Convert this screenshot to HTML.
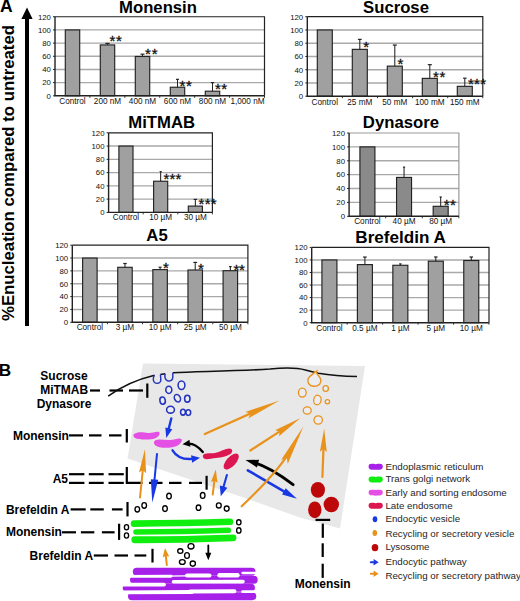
<!DOCTYPE html><html><head><meta charset="utf-8"><style>
html,body{margin:0;padding:0;background:#fff;}
svg{display:block;}
</style></head><body>
<svg width="520" height="601" viewBox="0 0 520 601" font-family="'Liberation Sans', sans-serif">
<text x="0.1" y="12.2" font-size="17.5" font-weight="bold">A</text>
<rect x="25" y="18" width="4" height="308" fill="#000"/>
<polygon points="27,7.5 32.6,19 21.4,19" fill="#000"/>
<text transform="translate(13.9,321) rotate(-90)" font-size="16" font-weight="bold" textLength="296" lengthAdjust="spacingAndGlyphs">%Enucleation compared to untreated</text>
<line x1="55" y1="82.62" x2="264.5" y2="82.62" stroke="#a9a9a9" stroke-width="1.4"/>
<line x1="55" y1="69.45" x2="264.5" y2="69.45" stroke="#a9a9a9" stroke-width="1.4"/>
<line x1="55" y1="56.27" x2="264.5" y2="56.27" stroke="#a9a9a9" stroke-width="1.4"/>
<line x1="55" y1="43.10" x2="264.5" y2="43.10" stroke="#a9a9a9" stroke-width="1.4"/>
<line x1="55" y1="29.92" x2="264.5" y2="29.92" stroke="#a9a9a9" stroke-width="1.4"/>
<polyline points="55,16.75 264.5,16.75 264.5,95.80" fill="none" stroke="#222" stroke-width="1.2"/>
<line x1="53" y1="95.80" x2="55" y2="95.80" stroke="#222" stroke-width="1"/>
<text x="50.9" y="98.60" font-size="7.8" text-anchor="end" fill="#111">0</text>
<line x1="53" y1="82.62" x2="55" y2="82.62" stroke="#222" stroke-width="1"/>
<text x="50.9" y="85.42" font-size="7.8" text-anchor="end" fill="#111">20</text>
<line x1="53" y1="69.45" x2="55" y2="69.45" stroke="#222" stroke-width="1"/>
<text x="50.9" y="72.25" font-size="7.8" text-anchor="end" fill="#111">40</text>
<line x1="53" y1="56.27" x2="55" y2="56.27" stroke="#222" stroke-width="1"/>
<text x="50.9" y="59.07" font-size="7.8" text-anchor="end" fill="#111">60</text>
<line x1="53" y1="43.10" x2="55" y2="43.10" stroke="#222" stroke-width="1"/>
<text x="50.9" y="45.90" font-size="7.8" text-anchor="end" fill="#111">80</text>
<line x1="53" y1="29.92" x2="55" y2="29.92" stroke="#222" stroke-width="1"/>
<text x="50.9" y="32.72" font-size="7.8" text-anchor="end" fill="#111">100</text>
<line x1="53" y1="16.75" x2="55" y2="16.75" stroke="#222" stroke-width="1"/>
<text x="50.9" y="19.55" font-size="7.8" text-anchor="end" fill="#111">120</text>
<line x1="89.92" y1="95.80" x2="89.92" y2="97.80" stroke="#222" stroke-width="0.9"/>
<line x1="124.83" y1="95.80" x2="124.83" y2="97.80" stroke="#222" stroke-width="0.9"/>
<line x1="159.75" y1="95.80" x2="159.75" y2="97.80" stroke="#222" stroke-width="0.9"/>
<line x1="194.67" y1="95.80" x2="194.67" y2="97.80" stroke="#222" stroke-width="0.9"/>
<line x1="229.58" y1="95.80" x2="229.58" y2="97.80" stroke="#222" stroke-width="0.9"/>
<line x1="264.50" y1="95.80" x2="264.50" y2="97.80" stroke="#222" stroke-width="0.9"/>
<rect x="65.30" y="29.92" width="14.4" height="65.88" fill="#a0a0a0" stroke="#222" stroke-width="1.15"/>
<text x="72.50" y="103.90" font-size="8.2" text-anchor="middle" fill="#111">Control</text>
<rect x="100.30" y="44.94" width="14.4" height="50.86" fill="#a0a0a0" stroke="#222" stroke-width="1.15"/>
<line x1="107.50" y1="44.94" x2="107.50" y2="43.36" stroke="#222" stroke-width="1.05"/>
<line x1="105.35" y1="43.36" x2="109.65" y2="43.36" stroke="#222" stroke-width="1.2"/>
<text x="107.50" y="103.90" font-size="8.2" text-anchor="middle" fill="#111">200 nM</text>
<rect x="135.30" y="56.47" width="14.4" height="39.33" fill="#a0a0a0" stroke="#222" stroke-width="1.15"/>
<line x1="142.50" y1="56.47" x2="142.50" y2="54.17" stroke="#222" stroke-width="1.05"/>
<line x1="140.50" y1="54.17" x2="144.50" y2="54.17" stroke="#222" stroke-width="1.2"/>
<text x="142.50" y="103.90" font-size="8.2" text-anchor="middle" fill="#111">400 nM</text>
<rect x="170.30" y="87.24" width="14.4" height="8.56" fill="#a0a0a0" stroke="#222" stroke-width="1.15"/>
<line x1="177.50" y1="87.24" x2="177.50" y2="79.33" stroke="#222" stroke-width="1.05"/>
<line x1="176.00" y1="79.33" x2="179.00" y2="79.33" stroke="#222" stroke-width="1.2"/>
<text x="177.50" y="103.90" font-size="8.2" text-anchor="middle" fill="#111">600 nM</text>
<rect x="205.30" y="91.19" width="14.4" height="4.61" fill="#a0a0a0" stroke="#222" stroke-width="1.15"/>
<line x1="212.50" y1="91.19" x2="212.50" y2="82.62" stroke="#222" stroke-width="1.05"/>
<line x1="210.80" y1="82.62" x2="214.20" y2="82.62" stroke="#222" stroke-width="1.2"/>
<text x="212.50" y="103.90" font-size="8.2" text-anchor="middle" fill="#111">800 nM</text>
<text x="247.50" y="103.90" font-size="8.2" text-anchor="middle" fill="#111">1,000 nM</text>
<polyline points="55,16.75 55,95.80 264.5,95.80" fill="none" stroke="#222" stroke-width="1.4"/>
<text x="112.40" y="46.30" font-size="15" text-anchor="middle" fill="#111" stroke="#111" stroke-width="0.3">*</text>
<text x="119.00" y="46.30" font-size="15" text-anchor="middle" fill="#111" stroke="#111" stroke-width="0.3">*</text>
<text x="147.90" y="58.90" font-size="15" text-anchor="middle" fill="#111" stroke="#111" stroke-width="0.3">*</text>
<text x="154.70" y="58.90" font-size="15" text-anchor="middle" fill="#111" stroke="#111" stroke-width="0.3">*</text>
<text x="182.50" y="90.60" font-size="15" text-anchor="middle" fill="#111" stroke="#111" stroke-width="0.3">*</text>
<text x="189.00" y="90.60" font-size="15" text-anchor="middle" fill="#111" stroke="#111" stroke-width="0.3">*</text>
<text x="218.00" y="94.40" font-size="15" text-anchor="middle" fill="#111" stroke="#111" stroke-width="0.3">*</text>
<text x="224.20" y="94.40" font-size="15" text-anchor="middle" fill="#111" stroke="#111" stroke-width="0.3">*</text>
<text x="158" y="12.5" font-size="16.7" font-weight="bold" text-anchor="middle" fill="#000">Monensin</text>
<line x1="307.3" y1="82.95" x2="482.8" y2="82.95" stroke="#a9a9a9" stroke-width="1.4"/>
<line x1="307.3" y1="69.70" x2="482.8" y2="69.70" stroke="#a9a9a9" stroke-width="1.4"/>
<line x1="307.3" y1="56.45" x2="482.8" y2="56.45" stroke="#a9a9a9" stroke-width="1.4"/>
<line x1="307.3" y1="43.20" x2="482.8" y2="43.20" stroke="#a9a9a9" stroke-width="1.4"/>
<line x1="307.3" y1="29.95" x2="482.8" y2="29.95" stroke="#a9a9a9" stroke-width="1.4"/>
<polyline points="307.3,16.70 482.8,16.70 482.8,96.20" fill="none" stroke="#222" stroke-width="1.2"/>
<line x1="305.3" y1="96.20" x2="307.3" y2="96.20" stroke="#222" stroke-width="1"/>
<text x="303.2" y="99.00" font-size="7.8" text-anchor="end" fill="#111">0</text>
<line x1="305.3" y1="82.95" x2="307.3" y2="82.95" stroke="#222" stroke-width="1"/>
<text x="303.2" y="85.75" font-size="7.8" text-anchor="end" fill="#111">20</text>
<line x1="305.3" y1="69.70" x2="307.3" y2="69.70" stroke="#222" stroke-width="1"/>
<text x="303.2" y="72.50" font-size="7.8" text-anchor="end" fill="#111">40</text>
<line x1="305.3" y1="56.45" x2="307.3" y2="56.45" stroke="#222" stroke-width="1"/>
<text x="303.2" y="59.25" font-size="7.8" text-anchor="end" fill="#111">60</text>
<line x1="305.3" y1="43.20" x2="307.3" y2="43.20" stroke="#222" stroke-width="1"/>
<text x="303.2" y="46.00" font-size="7.8" text-anchor="end" fill="#111">80</text>
<line x1="305.3" y1="29.95" x2="307.3" y2="29.95" stroke="#222" stroke-width="1"/>
<text x="303.2" y="32.75" font-size="7.8" text-anchor="end" fill="#111">100</text>
<line x1="305.3" y1="16.70" x2="307.3" y2="16.70" stroke="#222" stroke-width="1"/>
<text x="303.2" y="19.50" font-size="7.8" text-anchor="end" fill="#111">120</text>
<line x1="342.40" y1="96.20" x2="342.40" y2="98.20" stroke="#222" stroke-width="0.9"/>
<line x1="377.50" y1="96.20" x2="377.50" y2="98.20" stroke="#222" stroke-width="0.9"/>
<line x1="412.60" y1="96.20" x2="412.60" y2="98.20" stroke="#222" stroke-width="0.9"/>
<line x1="447.70" y1="96.20" x2="447.70" y2="98.20" stroke="#222" stroke-width="0.9"/>
<line x1="482.80" y1="96.20" x2="482.80" y2="98.20" stroke="#222" stroke-width="0.9"/>
<rect x="317.30" y="29.95" width="15" height="66.25" fill="#a0a0a0" stroke="#222" stroke-width="1.15"/>
<text x="324.80" y="105.20" font-size="8.2" text-anchor="middle" fill="#111">Control</text>
<rect x="352.30" y="49.36" width="15" height="46.84" fill="#a0a0a0" stroke="#222" stroke-width="1.15"/>
<line x1="359.80" y1="49.36" x2="359.80" y2="39.36" stroke="#222" stroke-width="1.05"/>
<line x1="357.90" y1="39.36" x2="361.70" y2="39.36" stroke="#222" stroke-width="1.2"/>
<text x="359.80" y="105.20" font-size="8.2" text-anchor="middle" fill="#111">25 mM</text>
<rect x="387.30" y="66.12" width="15" height="30.08" fill="#a0a0a0" stroke="#222" stroke-width="1.15"/>
<line x1="394.80" y1="66.12" x2="394.80" y2="45.05" stroke="#222" stroke-width="1.05"/>
<line x1="392.80" y1="45.05" x2="396.80" y2="45.05" stroke="#222" stroke-width="1.2"/>
<text x="394.80" y="105.20" font-size="8.2" text-anchor="middle" fill="#111">50 mM</text>
<rect x="422.30" y="78.38" width="15" height="17.82" fill="#a0a0a0" stroke="#222" stroke-width="1.15"/>
<line x1="429.80" y1="78.38" x2="429.80" y2="64.67" stroke="#222" stroke-width="1.05"/>
<line x1="427.80" y1="64.67" x2="431.80" y2="64.67" stroke="#222" stroke-width="1.2"/>
<text x="429.80" y="105.20" font-size="8.2" text-anchor="middle" fill="#111">100 mM</text>
<rect x="457.30" y="86.33" width="15" height="9.87" fill="#a0a0a0" stroke="#222" stroke-width="1.15"/>
<line x1="464.80" y1="86.33" x2="464.80" y2="78.18" stroke="#222" stroke-width="1.05"/>
<line x1="463.10" y1="78.18" x2="466.50" y2="78.18" stroke="#222" stroke-width="1.2"/>
<text x="464.80" y="105.20" font-size="8.2" text-anchor="middle" fill="#111">150 mM</text>
<polyline points="307.3,16.70 307.3,96.20 482.8,96.20" fill="none" stroke="#222" stroke-width="1.4"/>
<text x="366.20" y="51.90" font-size="15" text-anchor="middle" fill="#111" stroke="#111" stroke-width="0.3">*</text>
<text x="400.50" y="69.40" font-size="15" text-anchor="middle" fill="#111" stroke="#111" stroke-width="0.3">*</text>
<text x="436.00" y="81.50" font-size="15" text-anchor="middle" fill="#111" stroke="#111" stroke-width="0.3">*</text>
<text x="442.50" y="81.50" font-size="15" text-anchor="middle" fill="#111" stroke="#111" stroke-width="0.3">*</text>
<text x="470.80" y="89.30" font-size="15" text-anchor="middle" fill="#111" stroke="#111" stroke-width="0.3">*</text>
<text x="477.00" y="89.30" font-size="15" text-anchor="middle" fill="#111" stroke="#111" stroke-width="0.3">*</text>
<text x="483.20" y="89.30" font-size="15" text-anchor="middle" fill="#111" stroke="#111" stroke-width="0.3">*</text>
<text x="396" y="12.5" font-size="16.7" font-weight="bold" text-anchor="middle" fill="#000">Sucrose</text>
<line x1="108.6" y1="199.13" x2="212.4" y2="199.13" stroke="#a9a9a9" stroke-width="1.4"/>
<line x1="108.6" y1="185.87" x2="212.4" y2="185.87" stroke="#a9a9a9" stroke-width="1.4"/>
<line x1="108.6" y1="172.60" x2="212.4" y2="172.60" stroke="#a9a9a9" stroke-width="1.4"/>
<line x1="108.6" y1="159.33" x2="212.4" y2="159.33" stroke="#a9a9a9" stroke-width="1.4"/>
<line x1="108.6" y1="146.07" x2="212.4" y2="146.07" stroke="#a9a9a9" stroke-width="1.4"/>
<polyline points="108.6,132.80 212.4,132.80 212.4,212.40" fill="none" stroke="#222" stroke-width="1.2"/>
<line x1="106.6" y1="212.40" x2="108.6" y2="212.40" stroke="#222" stroke-width="1"/>
<text x="104.5" y="215.20" font-size="7.8" text-anchor="end" fill="#111">0</text>
<line x1="106.6" y1="199.13" x2="108.6" y2="199.13" stroke="#222" stroke-width="1"/>
<text x="104.5" y="201.93" font-size="7.8" text-anchor="end" fill="#111">20</text>
<line x1="106.6" y1="185.87" x2="108.6" y2="185.87" stroke="#222" stroke-width="1"/>
<text x="104.5" y="188.67" font-size="7.8" text-anchor="end" fill="#111">40</text>
<line x1="106.6" y1="172.60" x2="108.6" y2="172.60" stroke="#222" stroke-width="1"/>
<text x="104.5" y="175.40" font-size="7.8" text-anchor="end" fill="#111">60</text>
<line x1="106.6" y1="159.33" x2="108.6" y2="159.33" stroke="#222" stroke-width="1"/>
<text x="104.5" y="162.13" font-size="7.8" text-anchor="end" fill="#111">80</text>
<line x1="106.6" y1="146.07" x2="108.6" y2="146.07" stroke="#222" stroke-width="1"/>
<text x="104.5" y="148.87" font-size="7.8" text-anchor="end" fill="#111">100</text>
<line x1="106.6" y1="132.80" x2="108.6" y2="132.80" stroke="#222" stroke-width="1"/>
<text x="104.5" y="135.60" font-size="7.8" text-anchor="end" fill="#111">120</text>
<line x1="143.20" y1="212.40" x2="143.20" y2="214.40" stroke="#222" stroke-width="0.9"/>
<line x1="177.80" y1="212.40" x2="177.80" y2="214.40" stroke="#222" stroke-width="0.9"/>
<line x1="212.40" y1="212.40" x2="212.40" y2="214.40" stroke="#222" stroke-width="0.9"/>
<rect x="118.90" y="146.07" width="14.1" height="66.33" fill="#a0a0a0" stroke="#222" stroke-width="1.15"/>
<text x="125.95" y="220.30" font-size="8.2" text-anchor="middle" fill="#111">Control</text>
<rect x="153.60" y="181.22" width="14.1" height="31.18" fill="#a0a0a0" stroke="#222" stroke-width="1.15"/>
<line x1="160.65" y1="181.22" x2="160.65" y2="171.61" stroke="#222" stroke-width="1.05"/>
<line x1="159.65" y1="171.61" x2="161.65" y2="171.61" stroke="#222" stroke-width="1.2"/>
<text x="160.65" y="220.30" font-size="8.2" text-anchor="middle" fill="#111">10 µM</text>
<rect x="188.30" y="206.10" width="14.1" height="6.30" fill="#a0a0a0" stroke="#222" stroke-width="1.15"/>
<line x1="195.35" y1="206.10" x2="195.35" y2="199.40" stroke="#222" stroke-width="1.05"/>
<line x1="193.60" y1="199.40" x2="197.10" y2="199.40" stroke="#222" stroke-width="1.2"/>
<text x="195.35" y="220.30" font-size="8.2" text-anchor="middle" fill="#111">30 µM</text>
<polyline points="108.6,132.80 108.6,212.40 212.4,212.40" fill="none" stroke="#222" stroke-width="1.4"/>
<text x="166.30" y="184.20" font-size="15" text-anchor="middle" fill="#111" stroke="#111" stroke-width="0.3">*</text>
<text x="172.30" y="184.20" font-size="15" text-anchor="middle" fill="#111" stroke="#111" stroke-width="0.3">*</text>
<text x="178.30" y="184.20" font-size="15" text-anchor="middle" fill="#111" stroke="#111" stroke-width="0.3">*</text>
<text x="201.50" y="208.50" font-size="15" text-anchor="middle" fill="#111" stroke="#111" stroke-width="0.3">*</text>
<text x="207.60" y="208.50" font-size="15" text-anchor="middle" fill="#111" stroke="#111" stroke-width="0.3">*</text>
<text x="213.70" y="208.50" font-size="15" text-anchor="middle" fill="#111" stroke="#111" stroke-width="0.3">*</text>
<text x="161.7" y="127.8" font-size="16.7" font-weight="bold" text-anchor="middle" fill="#000">MiTMAB</text>
<line x1="349.1" y1="202.42" x2="458.9" y2="202.42" stroke="#a9a9a9" stroke-width="1.4"/>
<line x1="349.1" y1="188.53" x2="458.9" y2="188.53" stroke="#a9a9a9" stroke-width="1.4"/>
<line x1="349.1" y1="174.65" x2="458.9" y2="174.65" stroke="#a9a9a9" stroke-width="1.4"/>
<line x1="349.1" y1="160.77" x2="458.9" y2="160.77" stroke="#a9a9a9" stroke-width="1.4"/>
<line x1="349.1" y1="146.88" x2="458.9" y2="146.88" stroke="#a9a9a9" stroke-width="1.4"/>
<polyline points="349.1,133.00 458.9,133.00 458.9,216.30" fill="none" stroke="#9a9a9a" stroke-width="1.2"/>
<line x1="347.1" y1="216.30" x2="349.1" y2="216.30" stroke="#222" stroke-width="1"/>
<text x="345.0" y="219.10" font-size="7.8" text-anchor="end" fill="#111">0</text>
<line x1="347.1" y1="202.42" x2="349.1" y2="202.42" stroke="#222" stroke-width="1"/>
<text x="345.0" y="205.22" font-size="7.8" text-anchor="end" fill="#111">20</text>
<line x1="347.1" y1="188.53" x2="349.1" y2="188.53" stroke="#222" stroke-width="1"/>
<text x="345.0" y="191.33" font-size="7.8" text-anchor="end" fill="#111">40</text>
<line x1="347.1" y1="174.65" x2="349.1" y2="174.65" stroke="#222" stroke-width="1"/>
<text x="345.0" y="177.45" font-size="7.8" text-anchor="end" fill="#111">60</text>
<line x1="347.1" y1="160.77" x2="349.1" y2="160.77" stroke="#222" stroke-width="1"/>
<text x="345.0" y="163.57" font-size="7.8" text-anchor="end" fill="#111">80</text>
<line x1="347.1" y1="146.88" x2="349.1" y2="146.88" stroke="#222" stroke-width="1"/>
<text x="345.0" y="149.68" font-size="7.8" text-anchor="end" fill="#111">100</text>
<line x1="347.1" y1="133.00" x2="349.1" y2="133.00" stroke="#222" stroke-width="1"/>
<text x="345.0" y="135.80" font-size="7.8" text-anchor="end" fill="#111">120</text>
<line x1="385.70" y1="216.30" x2="385.70" y2="218.30" stroke="#222" stroke-width="0.9"/>
<line x1="422.30" y1="216.30" x2="422.30" y2="218.30" stroke="#222" stroke-width="0.9"/>
<line x1="458.90" y1="216.30" x2="458.90" y2="218.30" stroke="#222" stroke-width="0.9"/>
<rect x="359.92" y="146.88" width="15" height="69.42" fill="#8a8a8a" stroke="#222" stroke-width="1.15"/>
<text x="367.42" y="223.80" font-size="8.2" text-anchor="middle" fill="#111">Control</text>
<rect x="396.55" y="177.43" width="15" height="38.87" fill="#8a8a8a" stroke="#222" stroke-width="1.15"/>
<line x1="404.05" y1="177.43" x2="404.05" y2="167.15" stroke="#222" stroke-width="1.05"/>
<line x1="402.94" y1="167.15" x2="405.15" y2="167.15" stroke="#222" stroke-width="1.2"/>
<text x="404.05" y="223.80" font-size="8.2" text-anchor="middle" fill="#111">40 µM</text>
<rect x="433.18" y="206.30" width="15" height="10.00" fill="#8a8a8a" stroke="#222" stroke-width="1.15"/>
<line x1="440.68" y1="206.30" x2="440.68" y2="197.00" stroke="#222" stroke-width="1.05"/>
<line x1="439.57" y1="197.00" x2="441.78" y2="197.00" stroke="#222" stroke-width="1.2"/>
<text x="440.68" y="223.80" font-size="8.2" text-anchor="middle" fill="#111">80 µM</text>
<polyline points="349.1,133.00 349.1,216.30 458.9,216.30" fill="none" stroke="#222" stroke-width="1.4"/>
<text x="446.60" y="209.70" font-size="15" text-anchor="middle" fill="#111" stroke="#111" stroke-width="0.3">*</text>
<text x="452.80" y="209.70" font-size="15" text-anchor="middle" fill="#111" stroke="#111" stroke-width="0.3">*</text>
<text x="400.9" y="127.6" font-size="16.7" font-weight="bold" text-anchor="middle" fill="#000">Dynasore</text>
<line x1="72.3" y1="309.45" x2="247.9" y2="309.45" stroke="#a9a9a9" stroke-width="1.4"/>
<line x1="72.3" y1="296.60" x2="247.9" y2="296.60" stroke="#a9a9a9" stroke-width="1.4"/>
<line x1="72.3" y1="283.75" x2="247.9" y2="283.75" stroke="#a9a9a9" stroke-width="1.4"/>
<line x1="72.3" y1="270.90" x2="247.9" y2="270.90" stroke="#a9a9a9" stroke-width="1.4"/>
<line x1="72.3" y1="258.05" x2="247.9" y2="258.05" stroke="#a9a9a9" stroke-width="1.4"/>
<polyline points="72.3,245.20 247.9,245.20 247.9,322.30" fill="none" stroke="#222" stroke-width="1.2"/>
<line x1="70.3" y1="322.30" x2="72.3" y2="322.30" stroke="#222" stroke-width="1"/>
<text x="68.2" y="325.10" font-size="7.8" text-anchor="end" fill="#111">0</text>
<line x1="70.3" y1="309.45" x2="72.3" y2="309.45" stroke="#222" stroke-width="1"/>
<text x="68.2" y="312.25" font-size="7.8" text-anchor="end" fill="#111">20</text>
<line x1="70.3" y1="296.60" x2="72.3" y2="296.60" stroke="#222" stroke-width="1"/>
<text x="68.2" y="299.40" font-size="7.8" text-anchor="end" fill="#111">40</text>
<line x1="70.3" y1="283.75" x2="72.3" y2="283.75" stroke="#222" stroke-width="1"/>
<text x="68.2" y="286.55" font-size="7.8" text-anchor="end" fill="#111">60</text>
<line x1="70.3" y1="270.90" x2="72.3" y2="270.90" stroke="#222" stroke-width="1"/>
<text x="68.2" y="273.70" font-size="7.8" text-anchor="end" fill="#111">80</text>
<line x1="70.3" y1="258.05" x2="72.3" y2="258.05" stroke="#222" stroke-width="1"/>
<text x="68.2" y="260.85" font-size="7.8" text-anchor="end" fill="#111">100</text>
<line x1="70.3" y1="245.20" x2="72.3" y2="245.20" stroke="#222" stroke-width="1"/>
<text x="68.2" y="248.00" font-size="7.8" text-anchor="end" fill="#111">120</text>
<line x1="107.42" y1="322.30" x2="107.42" y2="324.30" stroke="#222" stroke-width="0.9"/>
<line x1="142.54" y1="322.30" x2="142.54" y2="324.30" stroke="#222" stroke-width="0.9"/>
<line x1="177.66" y1="322.30" x2="177.66" y2="324.30" stroke="#222" stroke-width="0.9"/>
<line x1="212.78" y1="322.30" x2="212.78" y2="324.30" stroke="#222" stroke-width="0.9"/>
<line x1="247.90" y1="322.30" x2="247.90" y2="324.30" stroke="#222" stroke-width="0.9"/>
<rect x="82.61" y="258.05" width="14.5" height="64.25" fill="#a0a0a0" stroke="#222" stroke-width="1.15"/>
<text x="89.86" y="329.60" font-size="8.2" text-anchor="middle" fill="#111">Control</text>
<rect x="117.73" y="267.30" width="14.5" height="55.00" fill="#a0a0a0" stroke="#222" stroke-width="1.15"/>
<line x1="124.98" y1="267.30" x2="124.98" y2="263.51" stroke="#222" stroke-width="1.05"/>
<line x1="123.23" y1="263.51" x2="126.73" y2="263.51" stroke="#222" stroke-width="1.2"/>
<text x="124.98" y="329.60" font-size="8.2" text-anchor="middle" fill="#111">3 µM</text>
<rect x="152.85" y="269.62" width="14.5" height="52.69" fill="#a0a0a0" stroke="#222" stroke-width="1.15"/>
<line x1="160.10" y1="269.62" x2="160.10" y2="267.24" stroke="#222" stroke-width="1.05"/>
<line x1="158.60" y1="267.24" x2="161.60" y2="267.24" stroke="#222" stroke-width="1.2"/>
<text x="160.10" y="329.60" font-size="8.2" text-anchor="middle" fill="#111">10 µM</text>
<rect x="187.97" y="270.00" width="14.5" height="52.30" fill="#a0a0a0" stroke="#222" stroke-width="1.15"/>
<line x1="195.22" y1="270.00" x2="195.22" y2="262.42" stroke="#222" stroke-width="1.05"/>
<line x1="193.37" y1="262.42" x2="197.07" y2="262.42" stroke="#222" stroke-width="1.2"/>
<text x="195.22" y="329.60" font-size="8.2" text-anchor="middle" fill="#111">25 µM</text>
<rect x="223.09" y="270.71" width="14.5" height="51.59" fill="#a0a0a0" stroke="#222" stroke-width="1.15"/>
<line x1="230.34" y1="270.71" x2="230.34" y2="266.60" stroke="#222" stroke-width="1.05"/>
<line x1="229.04" y1="266.60" x2="231.64" y2="266.60" stroke="#222" stroke-width="1.2"/>
<text x="230.34" y="329.60" font-size="8.2" text-anchor="middle" fill="#111">50 µM</text>
<polyline points="72.3,245.20 72.3,322.30 247.9,322.30" fill="none" stroke="#222" stroke-width="1.4"/>
<text x="165.90" y="273.00" font-size="15" text-anchor="middle" fill="#111" stroke="#111" stroke-width="0.3">*</text>
<text x="200.80" y="273.60" font-size="15" text-anchor="middle" fill="#111" stroke="#111" stroke-width="0.3">*</text>
<text x="236.30" y="275.00" font-size="15" text-anchor="middle" fill="#111" stroke="#111" stroke-width="0.3">*</text>
<text x="241.90" y="275.00" font-size="15" text-anchor="middle" fill="#111" stroke="#111" stroke-width="0.3">*</text>
<text x="157" y="240.8" font-size="16.7" font-weight="bold" text-anchor="middle" fill="#000">A5</text>
<line x1="311.7" y1="310.15" x2="489" y2="310.15" stroke="#a9a9a9" stroke-width="1.4"/>
<line x1="311.7" y1="297.60" x2="489" y2="297.60" stroke="#a9a9a9" stroke-width="1.4"/>
<line x1="311.7" y1="285.05" x2="489" y2="285.05" stroke="#a9a9a9" stroke-width="1.4"/>
<line x1="311.7" y1="272.50" x2="489" y2="272.50" stroke="#a9a9a9" stroke-width="1.4"/>
<line x1="311.7" y1="259.95" x2="489" y2="259.95" stroke="#a9a9a9" stroke-width="1.4"/>
<polyline points="311.7,247.40 489,247.40 489,322.70" fill="none" stroke="#222" stroke-width="1.2"/>
<line x1="309.7" y1="322.70" x2="311.7" y2="322.70" stroke="#222" stroke-width="1"/>
<text x="307.59999999999997" y="325.50" font-size="7.8" text-anchor="end" fill="#111">0</text>
<line x1="309.7" y1="310.15" x2="311.7" y2="310.15" stroke="#222" stroke-width="1"/>
<text x="307.59999999999997" y="312.95" font-size="7.8" text-anchor="end" fill="#111">20</text>
<line x1="309.7" y1="297.60" x2="311.7" y2="297.60" stroke="#222" stroke-width="1"/>
<text x="307.59999999999997" y="300.40" font-size="7.8" text-anchor="end" fill="#111">40</text>
<line x1="309.7" y1="285.05" x2="311.7" y2="285.05" stroke="#222" stroke-width="1"/>
<text x="307.59999999999997" y="287.85" font-size="7.8" text-anchor="end" fill="#111">60</text>
<line x1="309.7" y1="272.50" x2="311.7" y2="272.50" stroke="#222" stroke-width="1"/>
<text x="307.59999999999997" y="275.30" font-size="7.8" text-anchor="end" fill="#111">80</text>
<line x1="309.7" y1="259.95" x2="311.7" y2="259.95" stroke="#222" stroke-width="1"/>
<text x="307.59999999999997" y="262.75" font-size="7.8" text-anchor="end" fill="#111">100</text>
<line x1="309.7" y1="247.40" x2="311.7" y2="247.40" stroke="#222" stroke-width="1"/>
<text x="307.59999999999997" y="250.20" font-size="7.8" text-anchor="end" fill="#111">120</text>
<line x1="347.16" y1="322.70" x2="347.16" y2="324.70" stroke="#222" stroke-width="0.9"/>
<line x1="382.62" y1="322.70" x2="382.62" y2="324.70" stroke="#222" stroke-width="0.9"/>
<line x1="418.08" y1="322.70" x2="418.08" y2="324.70" stroke="#222" stroke-width="0.9"/>
<line x1="453.54" y1="322.70" x2="453.54" y2="324.70" stroke="#222" stroke-width="0.9"/>
<line x1="489.00" y1="322.70" x2="489.00" y2="324.70" stroke="#222" stroke-width="0.9"/>
<rect x="321.93" y="259.95" width="15" height="62.75" fill="#a0a0a0" stroke="#222" stroke-width="1.15"/>
<text x="329.43" y="330.60" font-size="8.2" text-anchor="middle" fill="#111">Control</text>
<rect x="357.39" y="264.59" width="15" height="58.11" fill="#a0a0a0" stroke="#222" stroke-width="1.15"/>
<line x1="364.89" y1="264.59" x2="364.89" y2="257.06" stroke="#222" stroke-width="1.05"/>
<line x1="363.09" y1="257.06" x2="366.69" y2="257.06" stroke="#222" stroke-width="1.2"/>
<text x="364.89" y="330.60" font-size="8.2" text-anchor="middle" fill="#111">0.5 µM</text>
<rect x="392.85" y="265.28" width="15" height="57.42" fill="#a0a0a0" stroke="#222" stroke-width="1.15"/>
<line x1="400.35" y1="265.28" x2="400.35" y2="263.90" stroke="#222" stroke-width="1.05"/>
<line x1="399.15" y1="263.90" x2="401.55" y2="263.90" stroke="#222" stroke-width="1.2"/>
<text x="400.35" y="330.60" font-size="8.2" text-anchor="middle" fill="#111">1 µM</text>
<rect x="428.31" y="261.20" width="15" height="61.50" fill="#a0a0a0" stroke="#222" stroke-width="1.15"/>
<line x1="435.81" y1="261.20" x2="435.81" y2="257.00" stroke="#222" stroke-width="1.05"/>
<line x1="434.06" y1="257.00" x2="437.56" y2="257.00" stroke="#222" stroke-width="1.2"/>
<text x="435.81" y="330.60" font-size="8.2" text-anchor="middle" fill="#111">5 µM</text>
<rect x="463.77" y="260.51" width="15" height="62.19" fill="#a0a0a0" stroke="#222" stroke-width="1.15"/>
<line x1="471.27" y1="260.51" x2="471.27" y2="257.00" stroke="#222" stroke-width="1.05"/>
<line x1="469.52" y1="257.00" x2="473.02" y2="257.00" stroke="#222" stroke-width="1.2"/>
<text x="471.27" y="330.60" font-size="8.2" text-anchor="middle" fill="#111">10 µM</text>
<polyline points="311.7,247.40 311.7,322.70 489,322.70" fill="none" stroke="#222" stroke-width="1.4"/>
<text x="400.6" y="243.2" font-size="17.1" font-weight="bold" text-anchor="middle" fill="#000">Brefeldin A</text>
<text x="-1.3" y="376.3" font-size="17.2" font-weight="bold">B</text>
<polygon points="143,363.5 365,366 340,528.5 300,517.5 228.8,492.5 127.5,458.5" fill="#e8e8e8"/>
<text x="64" y="379.8" font-size="12" font-weight="bold" fill="#000" text-anchor="middle">Sucrose</text>
<text x="64.2" y="394.2" font-size="12" font-weight="bold" fill="#000" text-anchor="middle">MiTMAB</text>
<text x="64" y="408" font-size="12" font-weight="bold" fill="#000" text-anchor="middle">Dynasore</text>
<text x="12.9" y="440" font-size="12" font-weight="bold" fill="#000">Monensin</text>
<text x="52.7" y="483.3" font-size="12" font-weight="bold" fill="#000">A5</text>
<text x="5.9" y="514.3" font-size="12" font-weight="bold" fill="#000">Brefeldin A</text>
<text x="5.9" y="535.8" font-size="12" font-weight="bold" fill="#000">Monensin</text>
<text x="29.6" y="559.5" font-size="12" font-weight="bold" fill="#000">Brefeldin A</text>
<text x="294.7" y="587.7" font-size="12" font-weight="bold" fill="#000">Monensin</text>
<line x1="90" y1="390.5" x2="100" y2="390.5" stroke="#000" stroke-width="2.2"/>
<line x1="109.5" y1="390.5" x2="123" y2="390.5" stroke="#000" stroke-width="2.2"/>
<line x1="129" y1="390.5" x2="143" y2="390.5" stroke="#000" stroke-width="2.2"/>
<line x1="147.3" y1="383.5" x2="147.3" y2="397.8" stroke="#000" stroke-width="2.2"/>
<line x1="69" y1="435.4" x2="83" y2="435.4" stroke="#000" stroke-width="2.2"/>
<line x1="89" y1="435.4" x2="101.5" y2="435.4" stroke="#000" stroke-width="2.2"/>
<line x1="109" y1="435.4" x2="121.5" y2="435.4" stroke="#000" stroke-width="2.2"/>
<line x1="126.8" y1="429" x2="126.8" y2="442.5" stroke="#000" stroke-width="2.2"/>
<line x1="69" y1="474.2" x2="84.4" y2="474.2" stroke="#000" stroke-width="2.2"/>
<line x1="88.8" y1="474.2" x2="103.7" y2="474.2" stroke="#000" stroke-width="2.2"/>
<line x1="108.5" y1="474.2" x2="123.8" y2="474.2" stroke="#000" stroke-width="2.2"/>
<line x1="69" y1="482.9" x2="84.4" y2="482.9" stroke="#000" stroke-width="2.2"/>
<line x1="88.8" y1="482.9" x2="103.7" y2="482.9" stroke="#000" stroke-width="2.2"/>
<line x1="108.5" y1="482.9" x2="123.8" y2="482.9" stroke="#000" stroke-width="2.2"/>
<polyline points="126.8,467 126.8,482.9 142.5,482.9" fill="none" stroke="#000" stroke-width="2.2"/>
<line x1="149" y1="482.9" x2="162.5" y2="482.9" stroke="#000" stroke-width="2.2"/>
<line x1="169" y1="482.9" x2="181.5" y2="482.9" stroke="#000" stroke-width="2.2"/>
<line x1="189" y1="482.9" x2="202" y2="482.9" stroke="#000" stroke-width="2.2"/>
<line x1="206.6" y1="475.8" x2="206.6" y2="489.7" stroke="#000" stroke-width="2.2"/>
<line x1="70.6" y1="509.4" x2="85.7" y2="509.4" stroke="#000" stroke-width="2.2"/>
<line x1="90.3" y1="509.4" x2="103.8" y2="509.4" stroke="#000" stroke-width="2.2"/>
<line x1="111.9" y1="509.4" x2="122.6" y2="509.4" stroke="#000" stroke-width="2.2"/>
<line x1="127.5" y1="502" x2="127.5" y2="516.4" stroke="#000" stroke-width="2.2"/>
<line x1="62" y1="532.3" x2="76" y2="532.3" stroke="#000" stroke-width="2.2"/>
<line x1="80.9" y1="532.3" x2="94.3" y2="532.3" stroke="#000" stroke-width="2.2"/>
<line x1="101.9" y1="532.3" x2="114.6" y2="532.3" stroke="#000" stroke-width="2.2"/>
<line x1="119.1" y1="523.7" x2="119.1" y2="539.9" stroke="#000" stroke-width="2.2"/>
<line x1="93.8" y1="555.5" x2="108" y2="555.5" stroke="#000" stroke-width="2.2"/>
<line x1="114.5" y1="555.5" x2="128" y2="555.5" stroke="#000" stroke-width="2.2"/>
<line x1="134.5" y1="555.5" x2="146.3" y2="555.5" stroke="#000" stroke-width="2.2"/>
<line x1="152.5" y1="548.8" x2="152.5" y2="562.5" stroke="#000" stroke-width="2.2"/>
<line x1="315.5" y1="519.9" x2="330.2" y2="519.9" stroke="#000" stroke-width="2.2"/>
<line x1="322.8" y1="523.6" x2="322.8" y2="537.8" stroke="#000" stroke-width="2.2"/>
<line x1="322.7" y1="543.3" x2="322.7" y2="557" stroke="#000" stroke-width="2.2"/>
<line x1="322.7" y1="563.7" x2="322.7" y2="577.9" stroke="#000" stroke-width="2.2"/>
<path d="M108.2,396.2 C118,389 135,380 154.5,375.3 M160.4,374.6 L165.2,373.8 M172.9,372.7 C200,371.5 240,371 270,369 C285,367.5 295,367 305.4,370 C310,371.3 314,372.3 318.5,373.2 C330,375 345,376.2 357,376.6" fill="none" stroke="#111" stroke-width="1.55"/>
<path d="M154.5,375.3 C153,377 152.8,381 154.5,382.5 C156.5,384 159.5,383.5 160.5,381.5 C161.3,379.5 160.5,376.5 160.4,374.6" fill="none" stroke="#2434bc" stroke-width="1.45"/>
<path d="M165.2,373.8 C164.5,376 164.8,379.8 167.5,380.8 C170.5,381.6 172.6,380 172.8,377.5 C173,375.5 172.5,374 172.9,372.7" fill="none" stroke="#2434bc" stroke-width="1.45"/>
<ellipse cx="181.5" cy="385.2" rx="3.4" ry="4.2" fill="#ececf1" stroke="#2434bc" stroke-width="1.55"/>
<ellipse cx="168.8" cy="389.8" rx="3" ry="3.6" fill="#ececf1" stroke="#2434bc" stroke-width="1.55"/>
<ellipse cx="162.6" cy="400.6" rx="2.7" ry="3.6" fill="#ececf1" stroke="#2434bc" stroke-width="1.55" transform="rotate(-10 162.6 400.6)"/>
<ellipse cx="177.4" cy="398.2" rx="2.9" ry="3.9" fill="#ececf1" stroke="#2434bc" stroke-width="1.55" transform="rotate(-25 177.4 398.2)"/>
<ellipse cx="187.3" cy="398.7" rx="2.7" ry="3.4" fill="#ececf1" stroke="#2434bc" stroke-width="1.55"/>
<ellipse cx="170.5" cy="409.7" rx="3.9" ry="3.4" fill="#ececf1" stroke="#2434bc" stroke-width="1.55"/>
<ellipse cx="183" cy="412.2" rx="2.4" ry="2.9" fill="#ececf1" stroke="#2434bc" stroke-width="1.55"/>
<ellipse cx="188.3" cy="412.6" rx="2.4" ry="2.8" fill="#ececf1" stroke="#2434bc" stroke-width="1.55"/>
<path d="M315.5,371 C315,373.5 310,375 308.2,378.5 C306.8,382 309,386.3 314,386.3 C319,386.3 321.5,383 320.8,379.5 C320.2,376.5 317,375 316.5,372.5 C316.3,371.5 316.8,370.5 317.5,370" fill="#ececf1" stroke="#e8921c" stroke-width="1.4"/>
<ellipse cx="302.3" cy="392.6" rx="3.9" ry="4.5" fill="#ececf1" stroke="#e8921c" stroke-width="1.3"/>
<ellipse cx="325.7" cy="388.5" rx="2.7" ry="2.9" fill="#ececf1" stroke="#e8921c" stroke-width="1.3"/>
<ellipse cx="317.4" cy="400" rx="3.7" ry="4.8" fill="#ececf1" stroke="#e8921c" stroke-width="1.3" transform="rotate(10 317.4 400)"/>
<ellipse cx="327.4" cy="401.8" rx="2.2" ry="2.1" fill="#ececf1" stroke="#e8921c" stroke-width="1.3"/>
<ellipse cx="307.2" cy="410.5" rx="4" ry="3.7" fill="#ececf1" stroke="#e8921c" stroke-width="1.3"/>
<ellipse cx="318.2" cy="420" rx="4.2" ry="4.2" fill="#ececf1" stroke="#e8921c" stroke-width="1.3"/>
<line x1="171.30" y1="418.50" x2="167.79" y2="432.19" stroke="#1838e4" stroke-width="2.4" stroke-linecap="round"/>
<polygon points="166.30,438.00 165.30,427.42 168.78,428.31 172.27,429.21" fill="#1838e4"/>
<path d="M134,434 C138,431 144,432.5 148,433 C152,433.5 156,431 159,432 C161,434 158,438 153,439 C146,440 138,439.5 135,438 C133,437 133,435 134,434 Z" fill="#e450e4"/>
<path d="M155,440.5 C159,438.5 165,440.5 170,440 C175,439.5 179,437.5 181.5,439 C183,442 179,446 172,447.3 C165,448.5 158,447.5 155.5,445.5 C153.5,444 153.5,441.5 155,440.5 Z" fill="#e450e4"/>
<path d="M203.5,454.5 C206,452.5 211,453.5 215,453 C220,452 224,449 229,448.5 C233,448.5 233,452 230.5,454 C227,456.5 221,457.5 216,458 C211,458.5 206,460 204,458.5 C202.5,457.5 202.5,455.5 203.5,454.5 Z" fill="#dc1650"/>
<ellipse cx="231.2" cy="461.5" rx="10" ry="4.7" transform="rotate(-47 231.2 461.5)" fill="#dc1650"/>
<path d="M202.80,452.00 Q195.00,442.50 186.95,443.66" fill="none" stroke="#000" stroke-width="2.3" stroke-linecap="round"/>
<polygon points="182.50,444.30 189.42,439.77 189.92,443.23 190.42,446.70" fill="#000"/>
<path d="M172.50,450.30 Q179.00,461.00 194.96,458.57" fill="none" stroke="#1838e4" stroke-width="2.3" stroke-linecap="round"/>
<polygon points="200.00,457.80 192.16,462.79 191.60,459.08 191.03,455.37" fill="#1838e4"/>
<line x1="157.00" y1="453.90" x2="153.63" y2="488.66" stroke="#1838e4" stroke-width="2.0" stroke-linecap="round"/>
<polygon points="152.30,502.40 150.79,479.15 154.52,479.51 158.25,479.87" fill="#1838e4"/>
<line x1="140.00" y1="497.50" x2="143.52" y2="463.32" stroke="#e8921c" stroke-width="2.0" stroke-linecap="round"/>
<polygon points="145.00,449.00 146.09,473.24 142.83,470.01 138.98,472.51" fill="#e8921c"/>
<line x1="212.70" y1="494.60" x2="214.84" y2="477.24" stroke="#e8921c" stroke-width="2.0" stroke-linecap="round"/>
<polygon points="215.80,469.50 217.48,482.81 214.40,480.85 210.93,482.00" fill="#e8921c"/>
<line x1="226.90" y1="475.00" x2="222.46" y2="490.43" stroke="#1838e4" stroke-width="2.1" stroke-linecap="round"/>
<polygon points="220.80,496.20 219.82,485.51 223.57,486.59 227.31,487.67" fill="#1838e4"/>
<line x1="204.80" y1="434.10" x2="259.91" y2="409.27" stroke="#e8921c" stroke-width="2.2" stroke-linecap="round"/>
<polygon points="279.60,400.40 248.25,418.45 250.72,413.41 245.31,411.93" fill="#e8921c"/>
<line x1="250.30" y1="450.50" x2="286.40" y2="427.13" stroke="#e8921c" stroke-width="2.2" stroke-linecap="round"/>
<polygon points="300.50,418.00 278.94,436.22 279.82,431.39 275.05,430.22" fill="#e8921c"/>
<line x1="322.40" y1="477.00" x2="323.69" y2="442.59" stroke="#e8921c" stroke-width="2.2" stroke-linecap="round"/>
<polygon points="324.20,428.80 326.80,451.91 323.44,449.03 319.88,451.65" fill="#e8921c"/>
<path d="M293.10,484.70 Q270.00,467.00 253.01,462.21" fill="none" stroke="#000" stroke-width="2.8" stroke-linecap="round"/>
<polygon points="245.50,460.10 259.10,459.77 258.01,463.62 256.93,467.47" fill="#000"/>
<line x1="247.80" y1="470.30" x2="289.12" y2="494.28" stroke="#1838e4" stroke-width="2.6" stroke-linecap="round"/>
<polygon points="296.90,498.80 282.12,494.38 283.93,491.27 285.73,488.16" fill="#1838e4"/>
<path d="M241.70,506.20 Q280.00,470.00 292.01,447.73" fill="none" stroke="#e8921c" stroke-width="2.2" stroke-linecap="round"/>
<polygon points="303.40,426.60 287.81,463.64 286.69,457.58 281.03,459.98" fill="#e8921c"/>
<ellipse cx="317.9" cy="489.8" rx="7.1" ry="7.9" fill="#bc0808"/>
<ellipse cx="331.3" cy="504.5" rx="7.7" ry="7.8" fill="#bc0808"/>
<ellipse cx="314.8" cy="509.8" rx="6.7" ry="8.4" fill="#bc0808"/>
<ellipse cx="137.3" cy="509.3" rx="2.3" ry="2.7" fill="none" stroke="#000" stroke-width="1.35"/>
<ellipse cx="144.2" cy="505.4" rx="2.3" ry="2.8" fill="none" stroke="#000" stroke-width="1.35"/>
<ellipse cx="169" cy="496.1" rx="2.3" ry="2.9" fill="none" stroke="#000" stroke-width="1.35"/>
<ellipse cx="165" cy="508.6" rx="2.3" ry="2.9" fill="none" stroke="#000" stroke-width="1.35"/>
<ellipse cx="202.7" cy="495.4" rx="2.3" ry="2.9" fill="none" stroke="#000" stroke-width="1.35"/>
<ellipse cx="198.5" cy="507.7" rx="2.3" ry="2.7" fill="none" stroke="#000" stroke-width="1.35"/>
<ellipse cx="218.8" cy="505.4" rx="2.4" ry="2.6" fill="none" stroke="#000" stroke-width="1.35"/>
<ellipse cx="226.7" cy="508.6" rx="2.4" ry="2.6" fill="none" stroke="#000" stroke-width="1.35"/>
<ellipse cx="126.5" cy="527.2" rx="2.1" ry="2.6" fill="none" stroke="#000" stroke-width="1.35"/>
<ellipse cx="126.5" cy="535.5" rx="2.1" ry="2.6" fill="none" stroke="#000" stroke-width="1.35"/>
<ellipse cx="238.8" cy="522.3" rx="2.2" ry="2.6" fill="none" stroke="#000" stroke-width="1.35"/>
<ellipse cx="238.8" cy="530.4" rx="2.2" ry="2.7" fill="none" stroke="#000" stroke-width="1.35"/>
<ellipse cx="191" cy="546.3" rx="3" ry="2.7" fill="none" stroke="#000" stroke-width="1.35"/>
<ellipse cx="180.3" cy="551" rx="2.6" ry="2.3" fill="none" stroke="#000" stroke-width="1.35"/>
<ellipse cx="187" cy="555.5" rx="2.4" ry="2.9" fill="none" stroke="#000" stroke-width="1.35"/>
<ellipse cx="182.3" cy="562" rx="2.9" ry="2.4" fill="none" stroke="#000" stroke-width="1.35"/>
<ellipse cx="192.8" cy="563.6" rx="2.6" ry="2.6" fill="none" stroke="#000" stroke-width="1.35"/>
<path d="M134,523.6 Q180,523.2 230,521.8" fill="none" stroke="#10ee10" stroke-width="6.6" stroke-linecap="round"/>
<path d="M136,532 Q180,531.8 228.3,530.3" fill="none" stroke="#10ee10" stroke-width="5.6" stroke-linecap="round"/>
<path d="M134.8,539.8 Q180,539.9 233,537.9" fill="none" stroke="#10ee10" stroke-width="6.9" stroke-linecap="round"/>
<line x1="208.30" y1="545.40" x2="208.30" y2="555.70" stroke="#000" stroke-width="1.8" stroke-linecap="round"/>
<polygon points="208.30,560.20 205.30,552.70 208.30,552.70 211.30,552.70" fill="#000"/>
<line x1="166.80" y1="565.00" x2="165.57" y2="553.37" stroke="#e8921c" stroke-width="2.0" stroke-linecap="round"/>
<polygon points="165.00,548.00 169.23,556.60 165.83,555.88 162.67,557.30" fill="#e8921c"/>
<line x1="136.8" y1="571.8" x2="251.6" y2="571.8" stroke="#a620ea" stroke-width="8" stroke-linecap="round"/>
<line x1="134" y1="579.8" x2="253.7" y2="579.8" stroke="#a620ea" stroke-width="8" stroke-linecap="round"/>
<line x1="126.7" y1="587.8" x2="250.9" y2="587.8" stroke="#a620ea" stroke-width="8" stroke-linecap="round"/>
<line x1="132" y1="596.2" x2="252.3" y2="596.2" stroke="#a620ea" stroke-width="8" stroke-linecap="round"/>
<line x1="124" y1="576.4" x2="171" y2="576.2" stroke="#fff" stroke-width="2.9" stroke-linecap="round"/>
<line x1="170" y1="576.2" x2="187" y2="575.8" stroke="#fff" stroke-width="1.2" stroke-linecap="round"/>
<line x1="187" y1="575.6" x2="209.5" y2="575.6" stroke="#fff" stroke-width="4.0" stroke-linecap="round"/>
<line x1="219.5" y1="575.2" x2="237.5" y2="575.2" stroke="#fff" stroke-width="4.4" stroke-linecap="round"/>
<line x1="242.5" y1="573" x2="264" y2="573" stroke="#fff" stroke-width="2.3" stroke-linecap="round"/>
<line x1="122" y1="584.6" x2="164" y2="584.6" stroke="#fff" stroke-width="3.8" stroke-linecap="round"/>
<line x1="173.5" y1="581.8" x2="243" y2="581.6" stroke="#fff" stroke-width="3.6" stroke-linecap="round"/>
<line x1="118" y1="592.4" x2="192" y2="592.0" stroke="#fff" stroke-width="3.8" stroke-linecap="round"/>
<line x1="190" y1="591.6" x2="234.5" y2="591.3" stroke="#fff" stroke-width="4.0" stroke-linecap="round"/>
<line x1="242.5" y1="591.7" x2="264" y2="591.7" stroke="#fff" stroke-width="2.7" stroke-linecap="round"/>
<text x="385.4" y="470.0" font-size="9.75" fill="#262626">Endoplasmic reticulum</text>
<text x="385.4" y="482.3" font-size="9.75" fill="#262626">Trans golgi network</text>
<text x="385.4" y="496.2" font-size="9.75" fill="#262626">Early and sorting endosome</text>
<text x="385.4" y="508.8" font-size="9.75" fill="#262626">Late endosome</text>
<text x="385.4" y="522.3" font-size="9.75" fill="#262626">Endocytic vesicle</text>
<text x="385.4" y="536.5" font-size="9.75" fill="#262626">Recycling or secretory vesicle</text>
<text x="385.4" y="550.3" font-size="9.75" fill="#262626">Lysosome</text>
<text x="385.4" y="564.6" font-size="9.75" fill="#262626">Endocytic pathway</text>
<text x="385.4" y="578.5" font-size="9.75" fill="#262626">Recycling or secretory pathway</text>
<path d="M368.6,466.7 C368.6,463.4 371,463.59999999999997 375.7,464.2 C380.4,463.59999999999997 382.8,463.4 382.8,466.7 C382.8,469.8 380,469.8 375.7,469.8 C371.4,469.8 368.6,469.8 368.6,466.7 Z" fill="#a620ea"/>
<path d="M368.6,479.4 C368.6,476.09999999999997 371,476.29999999999995 375.7,476.9 C380.4,476.29999999999995 382.8,476.09999999999997 382.8,479.4 C382.8,482.5 380,482.5 375.7,482.5 C371.4,482.5 368.6,482.5 368.6,479.4 Z" fill="#10ee10"/>
<path d="M368.6,492.6 C368.6,489.3 371,489.5 375.7,490.1 C380.4,489.5 382.8,489.3 382.8,492.6 C382.8,495.70000000000005 380,495.70000000000005 375.7,495.70000000000005 C371.4,495.70000000000005 368.6,495.70000000000005 368.6,492.6 Z" fill="#e450e4"/>
<path d="M368.6,505.7 C368.6,502.4 371,502.59999999999997 375.7,503.2 C380.4,502.59999999999997 382.8,502.4 382.8,505.7 C382.8,508.8 380,508.8 375.7,508.8 C371.4,508.8 368.6,508.8 368.6,505.7 Z" fill="#dc1650"/>
<ellipse cx="375" cy="519.2" rx="2.3" ry="3" fill="#1838e4"/>
<ellipse cx="374.8" cy="533" rx="2.3" ry="3" fill="#e8921c"/>
<ellipse cx="375" cy="547.7" rx="3.3" ry="3.6" fill="#bc0808"/>
<line x1="370.80" y1="562.30" x2="375.60" y2="562.30" stroke="#1838e4" stroke-width="2.0" stroke-linecap="round"/>
<polygon points="378.60,562.30 373.60,565.55 373.60,562.30 373.60,559.05" fill="#1838e4"/>
<line x1="370.80" y1="573.80" x2="375.60" y2="573.80" stroke="#e8921c" stroke-width="2.0" stroke-linecap="round"/>
<polygon points="378.60,573.80 373.60,577.05 373.60,573.80 373.60,570.55" fill="#e8921c"/>
</svg></body></html>
